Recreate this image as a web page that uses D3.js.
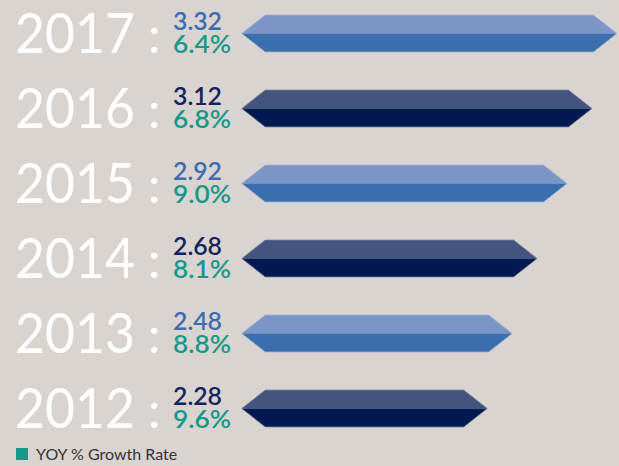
<!DOCTYPE html>
<html>
<head>
<meta charset="utf-8">
<script src="https://cdn.jsdelivr.net/npm/d3@7"></script>
<style>
  body { margin: 0; background: #d9d4d0; }
  svg { display: block; font-family: Lato, "Open Sans", sans-serif; }
</style>
</head>
<body>
<div id="vis"></div>
<script>
// chart data, top row first
var years = ["2017", "2016", "2015", "2014", "2013", "2012"];
var values = [3.32, 3.12, 2.92, 2.68, 2.48, 2.28];
var growth = ["6.4%", "6.8%", "9.0%", "8.1%", "8.8%", "9.6%"];
var legendLabel = "YOY % Growth Rate";

var width = 619,
    height = 466,
    barLeft = 241.7,
    barHeight = 37,
    bevel = 23.5;

// two alternating colour schemes for the prism bars
var schemes = [
    { top: "#7b95c6", bottom: "#3a6ead", text: "#3d6bb0", edge: "#a3b4d4" },
    { top: "#43547f", bottom: "#001a4f", text: "#13235b", edge: "#7d89a6" }
];
var teal = "#15988a";

var svg = d3.select("#vis").append("svg")
    .attr("width", width)
    .attr("height", height);

var y = d3.scaleBand()
    .domain(years)
    .range([-4, 446])
    .paddingInner(0);

// bar right tip position
var x = d3.scaleLinear()
    .domain([2.28, 3.32])
    .range([487.3, 617]);

var rows = svg.selectAll(".row")
    .data(years)
    .enter()
    .append("g")
    .attr("class", "row")
    .attr("transform", function (d) {
        return "translate(0," + (y(d) + y.bandwidth() / 2) + ")";
    });

// top half of the prism
rows.append("path")
    .attr("d", function (d, i) {
        var r = x(values[i]);
        return "M" + barLeft + ",0 L" + (barLeft + bevel) + "," + (-barHeight / 2) +
            " L" + (r - bevel) + "," + (-barHeight / 2) + " L" + r + ",0 Z";
    })
    .style("fill", function (d, i) { return schemes[i % 2].top; });

// bottom half
rows.append("path")
    .attr("d", function (d, i) {
        var r = x(values[i]);
        return "M" + barLeft + ",0 L" + (barLeft + bevel) + "," + (barHeight / 2) +
            " L" + (r - bevel) + "," + (barHeight / 2) + " L" + r + ",0 Z";
    })
    .style("fill", function (d, i) { return schemes[i % 2].bottom; });

// thin light outline round the whole prism
rows.append("path")
    .attr("d", function (d, i) {
        var r = x(values[i]);
        return "M" + barLeft + ",0 L" + (barLeft + bevel) + "," + (-barHeight / 2) +
            " L" + (r - bevel) + "," + (-barHeight / 2) + " L" + r + ",0" +
            " L" + (r - bevel) + "," + (barHeight / 2) +
            " L" + (barLeft + bevel) + "," + (barHeight / 2) + " Z";
    })
    .style("fill", "none")
    .style("stroke", function (d, i) { return schemes[i % 2].edge; })
    .style("stroke-width", 0.8);

// year + colon
rows.append("text")
    .attr("x", 15)
    .attr("y", 19.5)
    .attr("textLength", 120)
    .attr("lengthAdjust", "spacingAndGlyphs")
    .style("font-size", "57px")
    .style("fill", "#ffffff")
    .text(function (d) { return d; });

rows.append("text")
    .attr("x", 148)
    .attr("y", 19.5)
    .style("font-size", "50px")
    .style("fill", "#ffffff")
    .text(":");

// value
rows.append("text")
    .attr("x", 173)
    .attr("y", -3.5)
    .attr("textLength", 49)
    .attr("lengthAdjust", "spacingAndGlyphs")
    .style("font-size", "24px")
    .style("font-weight", 600)
    .style("fill", function (d, i) { return schemes[i % 2].text; })
    .text(function (d, i) { return values[i].toFixed(2); });

// growth rate
rows.append("text")
    .attr("x", 173)
    .attr("y", 19.5)
    .attr("textLength", 58)
    .attr("lengthAdjust", "spacingAndGlyphs")
    .style("font-size", "24px")
    .style("font-weight", 600)
    .style("fill", teal)
    .text(function (d, i) { return growth[i]; });

// legend
var legend = svg.append("g")
    .attr("transform", "translate(16,448)");

legend.append("rect")
    .attr("width", 12)
    .attr("height", 12)
    .style("fill", teal);

legend.append("text")
    .attr("x", 20)
    .attr("y", 11.5)
    .style("font-size", "16px")
    .style("fill", "#333333")
    .text(legendLabel);
</script>
</body>
</html>
